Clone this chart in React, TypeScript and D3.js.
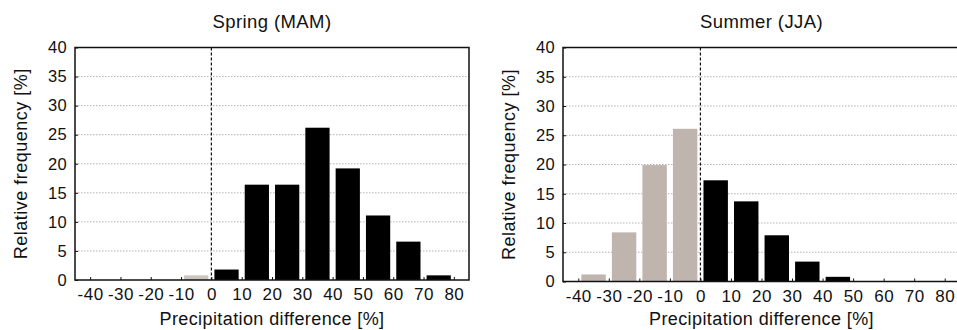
import React, { useEffect, useRef } from 'react';
import * as d3 from 'd3';

// lower edge of each 10% bin
const binStarts = [-40, -30, -20, -10, 0, 10, 20, 30, 40, 50, 60, 70];
const springValues = [0, 0, 0, 0.8, 1.8, 16.4, 16.4, 26.2, 19.2, 11.1, 6.6, 0.8];
const summerValues = [1.2, 8.4, 19.9, 26.1, 17.3, 13.7, 7.9, 3.4, 0.8, 0, 0, 0];
const xTicks = [-40, -30, -20, -10, 0, 10, 20, 30, 40, 50, 60, 70, 80];
const yTicks = [0, 5, 10, 15, 20, 25, 30, 35, 40];
const titles = ['Spring (MAM)', 'Summer (JJA)'];

const width = 957;
const height = 330;
const font = 'Liberation Sans, Arial, Helvetica, sans-serif';

const panels = [
  { title: titles[0], values: springValues, left: 75, right: 469, top: 47.5, bottom: 280, negColor: '#cdc4c0' },
  { title: titles[1], values: summerValues, left: 563, right: 960, top: 47.5, bottom: 281.5, negColor: '#bfb4ae' },
];

const App = () => {
  const chart = useRef(null);

  const styleText = (sel, size, spacing) => sel
    .attr('font-family', font)
    .attr('font-size', size)
    .attr('letter-spacing', spacing)
    .attr('fill', '#111');

  const drawPanel = (svg, p) => {
    const x = d3.scaleLinear().domain([-45, 85]).range([p.left, p.right]);
    const y = d3.scaleLinear().domain([0, 40]).range([p.bottom, p.top]);
    const g = svg.append('g');

    // dotted grid
    g.append('g')
      .selectAll('line')
      .data(yTicks.filter(t => t > 0 && t < 40))
      .join('line')
      .attr('x1', p.left)
      .attr('x2', p.right)
      .attr('y1', d => y(d))
      .attr('y2', d => y(d))
      .attr('stroke', '#b8b0ae')
      .attr('stroke-width', 1)
      .attr('stroke-dasharray', '1.5,1.5');

    // bars
    const bins = binStarts.map((b, i) => ({ lo: b, hi: b + 10, v: p.values[i] })).filter(d => d.v > 0);
    const inset = (x(10) - x(0)) * 0.1;
    g.append('g')
      .selectAll('rect')
      .data(bins)
      .join('rect')
      .attr('x', d => x(d.lo) + inset)
      .attr('width', d => x(d.hi) - x(d.lo) - 2 * inset)
      .attr('y', d => y(d.v))
      .attr('height', d => y(0) - y(d.v))
      .attr('fill', d => d.lo < 0 ? p.negColor : '#000');

    // zero line
    g.append('line')
      .attr('x1', x(0))
      .attr('x2', x(0))
      .attr('y1', p.top)
      .attr('y2', p.bottom)
      .attr('stroke', '#111')
      .attr('stroke-width', 1.2)
      .attr('stroke-dasharray', '3,2');

    // frame
    g.append('rect')
      .attr('x', p.left)
      .attr('y', p.top)
      .attr('width', p.right - p.left)
      .attr('height', p.bottom - p.top)
      .attr('fill', 'none')
      .attr('stroke', '#111')
      .attr('stroke-width', 1.5);

    // x axis (plain hyphen for negatives)
    g.append('g')
      .attr('transform', `translate(0,${p.bottom})`)
      .call(d3.axisBottom(x).tickValues(xTicks).tickFormat(d => String(d))
        .tickSizeInner(-3).tickSizeOuter(0).tickPadding(8))
      .call(a => a.select('.domain').remove())
      .call(a => a.selectAll('.tick line').attr('stroke', '#111'))
      .call(a => styleText(a.selectAll('.tick text'), 17, 0.5));

    // y axis
    g.append('g')
      .attr('transform', `translate(${p.left},0)`)
      .call(d3.axisLeft(y).tickValues(yTicks).tickFormat(d => String(d))
        .tickSizeInner(-3).tickSizeOuter(0).tickPadding(8))
      .call(a => a.select('.domain').remove())
      .call(a => a.selectAll('.tick line').attr('stroke', '#111'))
      .call(a => styleText(a.selectAll('.tick text'), 16.5, 0.3));

    const cx = (p.left + p.right) / 2;
    g.append('text')
      .attr('x', cx)
      .attr('y', 28)
      .attr('text-anchor', 'middle')
      .call(t => styleText(t, 18.5, 0.4))
      .text(p.title);

    g.append('text')
      .attr('x', cx)
      .attr('y', 325)
      .attr('text-anchor', 'middle')
      .call(t => styleText(t, 18, 0.4))
      .text('Precipitation difference [%]');

    g.append('text')
      .attr('transform', `translate(${p.left - 48},${(p.top + p.bottom) / 2}) rotate(-90)`)
      .attr('text-anchor', 'middle')
      .call(t => styleText(t, 18, 0.5))
      .text('Relative frequency [%]');
  };

  useEffect(() => {
    const svg = d3.select(chart.current);
    svg.selectAll('*').remove();
    panels.forEach(p => drawPanel(svg, p));
  }, []);

  return (
    <svg
      ref={chart}
      width={width}
      height={height}
      style={{ position: 'absolute', left: 0, top: 0, background: '#fff' }}
    />
  );
};

export default App;
